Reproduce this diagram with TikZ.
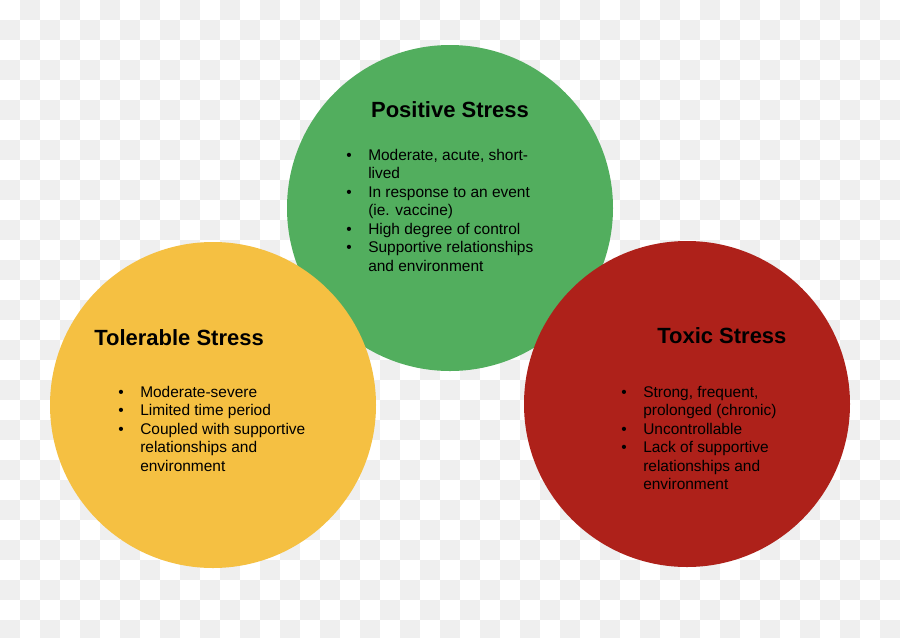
\documentclass[tikz,border=0pt]{standalone}
\usepackage{fontspec}
\setmainfont{Liberation Sans}
\usepackage{array}

\definecolor{posgreen}{RGB}{82,174,94}
\definecolor{tolyellow}{RGB}{245,192,66}
\definecolor{toxred}{RGB}{174,33,26}
\definecolor{checkgray}{RGB}{239,239,239}

\begin{document}
\begin{tikzpicture}[x=0.75pt,y=-0.75pt,
  bubble/.style={circle,inner sep=0pt,minimum size=244.5pt},
  heading/.style={font=\fontsize{16.5}{19}\selectfont\bfseries,inner sep=0pt},
  points/.style={font=\fontsize{11.6}{13.9}\selectfont,inner sep=0pt,anchor=base west}]
\useasboundingbox (0,0) rectangle (900,637);
% The checkered background
\fill[white] (0,0) rectangle (900,637);
\begin{scope}
\clip (0,0) rectangle (900,637);
\foreach \col in {0,...,44}
{
  \foreach \row in {0,...,31}
  {
    \pgfmathtruncatemacro\odd{mod(\col+\row,2)}
    \ifnum\odd=1
      \fill[checkgray] (20*\col,20*\row) rectangle ++(20,20);
    \fi
  }
}
\end{scope}

% The circles
\node[bubble,fill=posgreen] (posCircle) at (450,208) {};
\node[bubble,fill=tolyellow] (tolCircle) at (213,405) {};
\node[bubble,fill=toxred] (toxCircle) at (687,404) {};

% Positive stress
\node[heading,anchor=base] (posTitle) at (450,117) {Positive Stress};
\node[points] (posPoints) at (346,160) {\begin{tabular}[t]{@{}p{16.5pt}@{}l@{}}
\textbullet & Moderate, acute, short-\\
 & lived\\
\textbullet & In response to an event\\
 & (ie. vaccine)\\
\textbullet & High degree of control\\
\textbullet & Supportive relationships\\
 & and environment
\end{tabular}};

% Tolerable stress
\node[heading,anchor=base west] (tolTitle) at (94,345) {Tolerable Stress};
\node[points] (tolPoints) at (118,397) {\begin{tabular}[t]{@{}p{16.5pt}@{}l@{}}
\textbullet & Moderate-severe\\
\textbullet & Limited time period\\
\textbullet & Coupled with supportive\\
 & relationships and\\
 & environment
\end{tabular}};

% Toxic stress
\node[heading,anchor=base west] (toxTitle) at (657,343) {Toxic Stress};
\node[points] (toxPoints) at (621,397) {\begin{tabular}[t]{@{}p{16.5pt}@{}l@{}}
\textbullet & Strong, frequent,\\
 & prolonged (chronic)\\
\textbullet & Uncontrollable\\
\textbullet & Lack of supportive\\
 & relationships and\\
 & environment
\end{tabular}};
\end{tikzpicture}
\end{document}
